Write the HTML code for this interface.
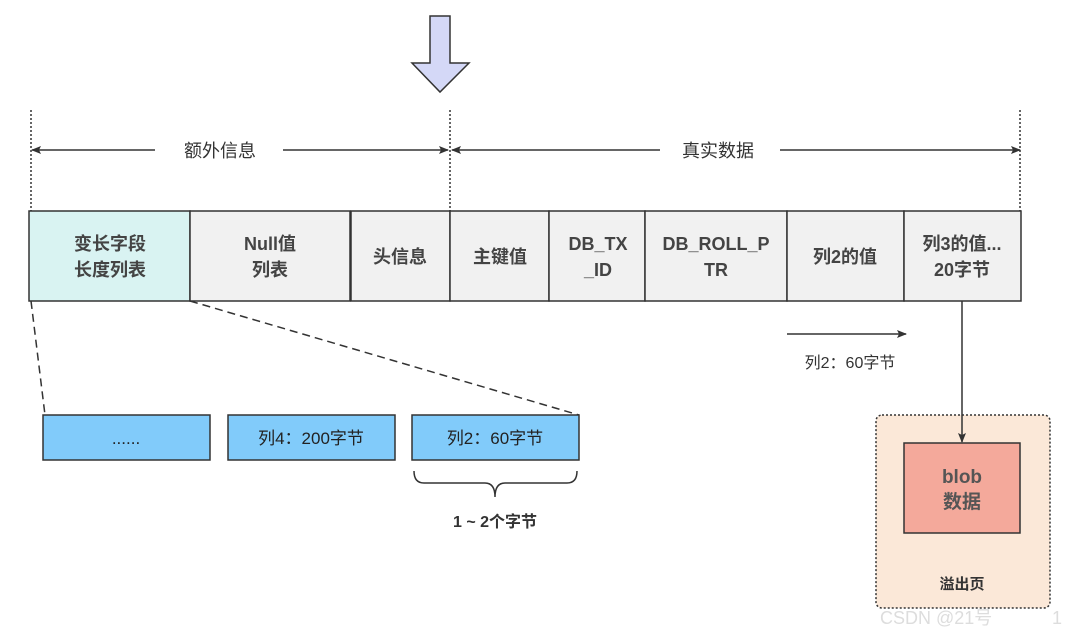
<!DOCTYPE html>
<html><head><meta charset="utf-8"><style>
html,body{margin:0;padding:0;background:#fff;}
svg{display:block;}
text{font-family:"Liberation Sans","Noto Sans CJK SC",sans-serif;}
</style></head><body>
<svg width="1068" height="633" viewBox="0 0 1068 633" xmlns="http://www.w3.org/2000/svg">
<defs>
<marker id="ah" markerWidth="10" markerHeight="8" refX="9" refY="4" orient="auto" markerUnits="userSpaceOnUse">
<path d="M0,0 L10,4 L0,8 L2,4 Z" fill="#333"/></marker>
</defs>
<!-- down arrow -->
<path d="M430,16 L450,16 L450,63 L469,63 L440,92 L412,63 L430,63 Z" fill="#d4d8f7" stroke="#333" stroke-width="1.5"/>
<!-- dotted verticals -->
<g stroke="#333" stroke-width="1.5" stroke-dasharray="2,2">
<line x1="31" y1="110" x2="31" y2="211"/>
<line x1="450" y1="110" x2="450" y2="211"/>
<line x1="1020" y1="110" x2="1020" y2="211"/>
</g>
<!-- dimension arrows -->
<g stroke="#333" stroke-width="1.5" fill="none">
<line x1="155" y1="150" x2="32" y2="150" marker-end="url(#ah)"/>
<line x1="283" y1="150" x2="448" y2="150" marker-end="url(#ah)"/>
<line x1="660" y1="150" x2="452" y2="150" marker-end="url(#ah)"/>
<line x1="780" y1="150" x2="1020" y2="150" marker-end="url(#ah)"/>
</g>
<text x="220" y="157" font-size="18" fill="#333" text-anchor="middle">额外信息</text>
<text x="718" y="157" font-size="18" fill="#333" text-anchor="middle">真实数据</text>
<!-- row -->
<g stroke="#333" stroke-width="1.5">
<rect x="29" y="211" width="161" height="90" fill="#d9f3f2"/>
<rect x="190" y="211" width="160" height="90" fill="#f1f1f1"/>
<rect x="351" y="211" width="99" height="90" fill="#f1f1f1"/>
<rect x="450" y="211" width="99" height="90" fill="#f1f1f1"/>
<rect x="549" y="211" width="96" height="90" fill="#f1f1f1"/>
<rect x="645" y="211" width="142" height="90" fill="#f1f1f1"/>
<rect x="787" y="211" width="117" height="90" fill="#f1f1f1"/>
<rect x="904" y="211" width="117" height="90" fill="#f1f1f1"/>
</g>
<g font-size="18" font-weight="bold" fill="#444" text-anchor="middle">
<text x="110" y="250">变长字段</text><text x="110" y="276">长度列表</text>
<text x="270" y="250">Null值</text><text x="270" y="276">列表</text>
<text x="400" y="263">头信息</text>
<text x="500" y="263">主键值</text>
<text x="598" y="250">DB_TX</text><text x="598" y="276">_ID</text>
<text x="716" y="250">DB_ROLL_P</text><text x="716" y="276">TR</text>
<text x="845" y="263">列2的值</text>
<text x="962" y="250">列3的值...</text><text x="962" y="276">20字节</text>
</g>
<!-- dashed lines -->
<g stroke="#333" stroke-width="1.5" stroke-dasharray="8,5">
<line x1="31" y1="301" x2="45" y2="415"/>
<line x1="190" y1="301" x2="579" y2="415"/>
</g>
<!-- bottom boxes -->
<g stroke="#333" stroke-width="1.5" fill="#81cbfa">
<rect x="43" y="415" width="167" height="45"/>
<rect x="228" y="415" width="167" height="45"/>
<rect x="412" y="415" width="167" height="45"/>
</g>
<g font-size="17" fill="#222" text-anchor="middle">
<text x="126" y="444">......</text>
<text x="311" y="444">列4：200字节</text>
<text x="495" y="444">列2：60字节</text>
</g>
<path d="M414,471 Q414,483 424,483 L485,483 Q495,483 495,497 Q495,483 505,483 L567,483 Q577,483 577,471" fill="none" stroke="#333" stroke-width="1.5"/>
<text x="495" y="527" font-size="16" font-weight="bold" fill="#333" text-anchor="middle">1 ~ 2个字节</text>
<!-- col2 arrow -->
<line x1="787" y1="334" x2="906" y2="334" stroke="#333" stroke-width="1.5" marker-end="url(#ah)"/>
<text x="850" y="368" font-size="16" fill="#333" text-anchor="middle">列2：60字节</text>
<!-- overflow -->
<rect x="876" y="415" width="174" height="193" rx="6" fill="#fbe8d8" stroke="#333" stroke-width="1.5" stroke-dasharray="2,2"/>
<rect x="904" y="443" width="116" height="90" fill="#f4a99b" stroke="#333" stroke-width="1.5"/>
<line x1="962" y1="301" x2="962" y2="442" stroke="#333" stroke-width="1.5" marker-end="url(#ah)"/>
<text x="962" y="483" font-size="19" font-weight="bold" fill="#555" text-anchor="middle">blob</text>
<text x="962" y="508" font-size="19" font-weight="bold" fill="#555" text-anchor="middle">数据</text>
<text x="962" y="589" font-size="15" font-weight="bold" fill="#333" text-anchor="middle">溢出页</text>
<text x="880" y="624" font-size="18" fill="#ddd">CSDN @21号</text>
<text x="1052" y="624" font-size="18" fill="#ddd">1</text>
</svg>
</body></html>
